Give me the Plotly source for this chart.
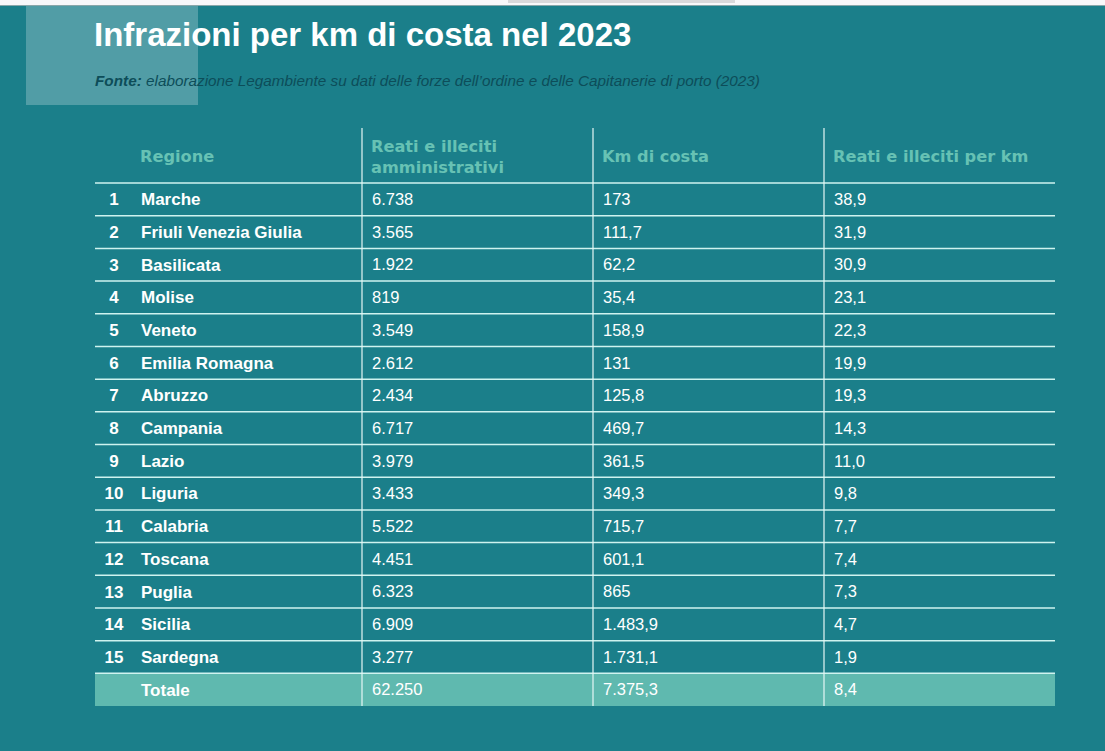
import plotly.graph_objects as go

# ---- data ----
regioni = ["Marche", "Friuli Venezia Giulia", "Basilicata", "Molise", "Veneto",
           "Emilia Romagna", "Abruzzo", "Campania", "Lazio", "Liguria",
           "Calabria", "Toscana", "Puglia", "Sicilia", "Sardegna"]
reati = [6738, 3565, 1922, 819, 3549, 2612, 2434, 6717, 3979, 3433,
         5522, 4451, 6323, 6909, 3277]
km_costa = [173, 111.7, 62.2, 35.4, 158.9, 131, 125.8, 469.7, 361.5, 349.3,
            715.7, 601.1, 865, 1483.9, 1731.1]
per_km = [38.9, 31.9, 30.9, 23.1, 22.3, 19.9, 19.3, 14.3, 11.0, 9.8,
          7.7, 7.4, 7.3, 4.7, 1.9]
totale_label = "Totale"
totale_reati = 62250
totale_km = 7375.3
totale_per_km = 8.4
headers = ["Regione", "Reati e illeciti<br>amministrativi", "Km di costa", "Reati e illeciti per km"]
title = "Infrazioni per km di costa nel 2023"
subtitle = "<b>Fonte:</b> elaborazione Legambiente su dati delle forze dell\u2019ordine e delle Capitanerie di porto (2023)"


def it_int(v):
    return f"{v:,}".replace(",", ".")


def it_km(v):
    if float(v).is_integer():
        return it_int(int(v))
    s = f"{v:,.1f}"
    return s.replace(",", "X").replace(".", ",").replace("X", ".")


def it_1(v):
    s = f"{v:,.1f}"
    return s.replace(",", "X").replace(".", ",").replace("X", ".")


# ---- style ----
BG = "#1B7F8A"
HEAD = "#67C2B4"
LINE = "#CFF3EF"
TOT = "#5FB9AF"
FONT = "Liberation Sans, Arial, sans-serif"
HFONT = "DejaVu Sans, Verdana, sans-serif"
W, H = 1105, 751
ROWH = 32.69                       # row height in px
ROW0 = 183 + ROWH / 2              # pixel centre of first row
TXT_DY = 0.05                      # small downward nudge of text (in rows)
col_x = [141, 372, 603, 834]       # text x of columns
rank_x = 114
vlines = [362, 593, 824]
x_left, x_right = 95, 1055

n = len(regioni)
rows = list(range(n))
tot_idx = n
trows = [r + TXT_DY for r in rows]
trows_all = trows + [tot_idx + TXT_DY]

fig = go.Figure()

# total row background
fig.add_shape(type="rect", xref="x", yref="y", x0=x_left, x1=x_right,
              y0=tot_idx - 0.5, y1=tot_idx + 0.5, fillcolor=TOT, line_width=0, layer="below")

# horizontal rules
for b in range(-1, n):
    fig.add_shape(type="line", xref="x", yref="y", x0=x_left, x1=x_right,
                  y0=b + 0.5, y1=b + 0.5, line=dict(color=LINE, width=1.5))

# vertical rules
head_top = (128 - ROW0) / ROWH
for vx in vlines:
    fig.add_shape(type="line", xref="x", yref="y", x0=vx, x1=vx,
                  y0=head_top, y1=tot_idx + 0.5, line=dict(color="#E6F7F5", width=1.2))

# light square at top-left
fig.add_shape(type="rect", xref="x", yref="paper", x0=26, x1=198,
              y0=1 - 105 / H, y1=1 - 6 / H, fillcolor="rgba(255,255,255,0.24)", line_width=0, layer="below")

# top browser strip
fig.add_shape(type="rect", xref="x", yref="paper", x0=0, x1=W, y0=1 - 5 / H, y1=1,
              fillcolor="#F8F8FA", line_width=0)
fig.add_shape(type="rect", xref="x", yref="paper", x0=508, x1=735, y0=1 - 3 / H, y1=1,
              fillcolor="#D9D9DB", line_width=0)
fig.add_shape(type="line", xref="x", yref="paper", x0=0, x1=W, y0=1 - 5.5 / H, y1=1 - 5.5 / H,
              line=dict(color="#8AA7AA", width=1))

txt = dict(mode="text", hoverinfo="skip", showlegend=False)

# rank numbers
fig.add_trace(go.Scatter(x=[rank_x] * n, y=trows, text=[str(i + 1) for i in rows],
                         textposition="middle center",
                         textfont=dict(family=FONT, size=17, color="white", weight="bold"), **txt))
# region names (+ total)
fig.add_trace(go.Scatter(x=[col_x[0]] * (n + 1), y=trows_all,
                         text=regioni + [totale_label], textposition="middle right",
                         textfont=dict(family=FONT, size=17, color="white", weight="bold"), **txt))
# value columns
cols = [
    [it_int(v) for v in reati] + [it_int(totale_reati)],
    [it_km(v) for v in km_costa] + [it_km(totale_km)],
    [it_1(v) for v in per_km] + [it_1(totale_per_km)],
]
for cx, vals in zip(col_x[1:], cols):
    fig.add_trace(go.Scatter(x=[cx] * (n + 1), y=trows_all, text=vals,
                             textposition="middle right",
                             textfont=dict(family=FONT, size=16.5, color="white"), **txt))

# headers
head_y = (156.5 - ROW0) / ROWH
for cx, h in zip(col_x, headers):
    fig.add_annotation(x=cx - 3, y=head_y, xref="x", yref="y", text=f"<b>{h}</b>",
                       showarrow=False, xanchor="left", yanchor="middle", align="left",
                       font=dict(family=HFONT, size=16.2, color=HEAD))

# title & subtitle
fig.add_annotation(x=92, y=1 - 34 / H, xref="x", yref="paper", text=f"<b>{title}</b>",
                   showarrow=False, xanchor="left", yanchor="middle",
                   font=dict(family=FONT, size=33, color="white"))
fig.add_annotation(x=93, y=1 - 80 / H, xref="x", yref="paper", text=f"<i>{subtitle}</i>",
                   showarrow=False, xanchor="left", yanchor="middle",
                   font=dict(family=FONT, size=15.3, color="#0D4D59"))

fig.update_layout(
    width=W, height=H, margin=dict(l=0, r=0, t=0, b=0),
    paper_bgcolor=BG, plot_bgcolor=BG,
    xaxis=dict(range=[0, W], visible=False, fixedrange=True),
    yaxis=dict(range=[(H - ROW0) / ROWH, -ROW0 / ROWH], visible=False, fixedrange=True),
)

fig.write_html("out.html", config={"displayModeBar": False},
               post_script="document.body.style.margin='0';document.body.style.overflow='hidden';")
